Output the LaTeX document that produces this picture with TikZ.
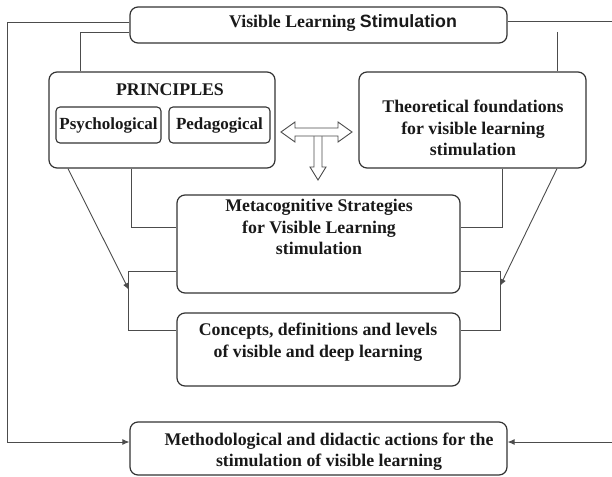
\documentclass[tikz,border=0pt]{standalone}
\usepackage{fontspec}
\setmainfont{Liberation Serif}
\newfontfamily\sansbit{Liberation Sans}
\usetikzlibrary{arrows.meta}

\tikzset{
  box/.style={draw=black!80, line width=1.2pt, rounded corners=8pt, inner sep=0pt},
  smallbox/.style={draw=black!80, line width=1.1pt, rounded corners=4pt, inner sep=0pt},
  txt/.style={font=\fontsize{17.8}{21.5}\selectfont\bfseries, align=center, inner sep=0pt, text=black!90},
  link/.style={draw=black!70, line width=0.9pt},
  arr/.style={link, -{Latex[length=7pt,width=6pt]}},
  hollow/.style={draw=black!70, line width=0.9pt, fill=white},
}

\begin{document}
\begin{tikzpicture}[x=1pt, y=-1pt]
  \useasboundingbox (0,0) rectangle (612,476);

  % boxes
  \node[box, minimum width=377pt, minimum height=36pt] (vls) at (318.5,25) {};
  \node[box, minimum width=226pt, minimum height=96pt] (prin) at (162,120) {};
  \node[smallbox, minimum width=105pt, minimum height=36pt] (psy) at (108.5,125) {};
  \node[smallbox, minimum width=101pt, minimum height=36pt] (ped) at (219.5,125) {};
  \node[box, minimum width=227pt, minimum height=96pt] (theo) at (472.5,120) {};
  \node[box, minimum width=283pt, minimum height=98pt] (meta) at (318.5,244) {};
  \node[box, minimum width=283pt, minimum height=73pt] (conc) at (318.5,349.5) {};
  \node[box, minimum width=377pt, minimum height=53pt] (bot) at (318.5,448.5) {};

  % texts
  \node[txt] (vlst) at (343,23) {Visible Learning {\sansbit Stimulation}};
  \node[txt] (print) at (170,90) {PRINCIPLES};
  \node[txt, font=\fontsize{17}{20}\selectfont\bfseries] (psyt) at (psy) {Psychological};
  \node[txt, font=\fontsize{17}{20}\selectfont\bfseries] (pedt) at (ped) {Pedagogical};
  \node[txt] (theot) at (473,128) {Theoretical foundations\\for visible learning\\stimulation};
  \node[txt] (metat) at (319,227) {Metacognitive Strategies\\for Visible Learning\\stimulation};
  \node[txt] (conct) at (318,342) {Concepts, definitions and levels\\of visible and deep learning};
  \node[txt] (bott) at (329,451.5) {Methodological and didactic actions for the\\stimulation of visible learning};

  % connectors
  \draw[arr] ([yshift=3pt]vls.west) -- ++(-122,0) |- ([yshift=6.5pt]bot.west);
  \draw[arr] ([yshift=4pt]vls.east) -- ++(120,0) |- ([yshift=6.5pt]bot.east);
  \draw[link] ([yshift=-7pt]vls.west) -| ([xshift=-82pt]prin.north);
  \coordinate (tstub) at (557,32);
  \draw[link] (tstub) -- (tstub |- theo.north);
  \draw[link] ([xshift=-31pt]prin.south) |- ([yshift=17pt]meta.west);
  \draw[link] ([xshift=29.5pt]theo.south) |- ([yshift=17pt]meta.east);
  \draw[link] ([yshift=-27pt]meta.west) -- ++(-48,0) |- ([yshift=19.5pt]conc.west);
  \draw[link] ([yshift=-27pt]meta.east) -- ++(40,0) |- ([yshift=19.5pt]conc.east);
  \coordinate (lhit) at (129,290);
  \coordinate (rhit) at (500,286);
  \draw[arr] ([xshift=-94pt]prin.south) -- (lhit);
  \draw[arr] ([xshift=84.5pt]theo.south) -- (rhit);

  % block arrows
  \draw[hollow] (314,134) -- (314,167) -- (310,167) -- (318,180) -- (326,167) -- (322,167) -- (322,134);
  \draw[hollow] (281,132) -- (295,122) -- (295,128) -- (338,128) -- (338,122) -- (352,132)
    -- (338,142) -- (338,136) -- (295,136) -- (295,142) -- cycle;
\end{tikzpicture}
\end{document}
